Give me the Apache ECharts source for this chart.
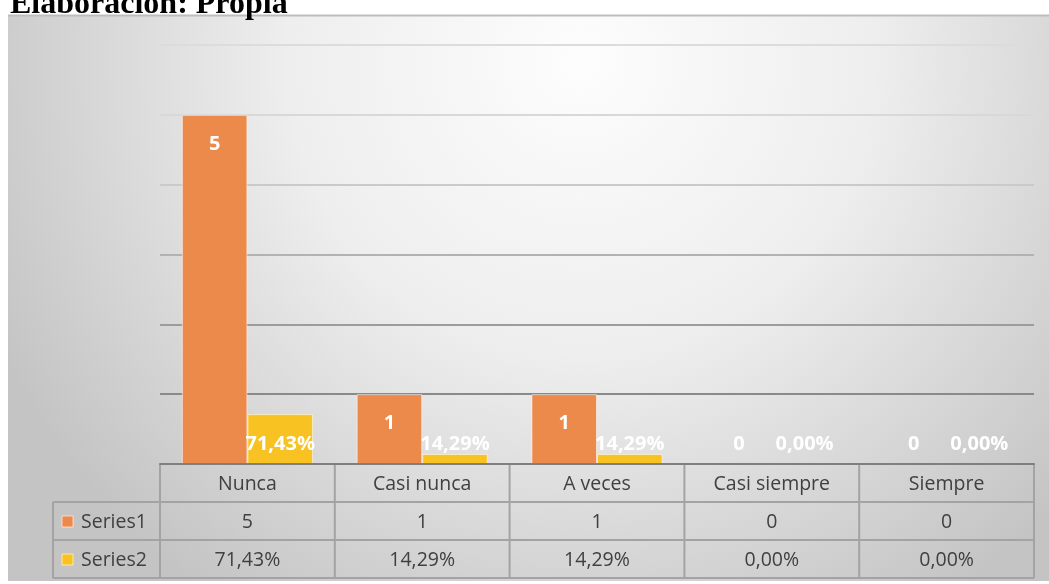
<!DOCTYPE html>
<html>
<head>
<meta charset="utf-8">
<script src="https://cdn.jsdelivr.net/npm/echarts@6/dist/echarts.min.js"></script>
<style>
html, body { margin: 0; padding: 0; background: #fff; }
#main { width: 1049px; height: 584px; }
</style>
</head>
<body>
<div id="main"></div>
<script>
var categories = ['Nunca', 'Casi nunca', 'A veces', 'Casi siempre', 'Siempre'];
var seriesNames = ['Series1', 'Series2'];
var series1 = [5, 1, 1, 0, 0];
var series2 = [0.7143, 0.1429, 0.1429, 0, 0];
var titleText = 'Elaboración: Propia';

var orange = '#EB8A4B';
var yellow = '#F8C322';
var textFont = '"Open Sans", "Noto Sans", sans-serif';

function pct(v) {
  return (v * 100).toFixed(2).replace('.', ',') + '%';
}

// barras en 0: sin borde; etiqueta de la serie 1 abajo si el valor es 0
function s1Data() {
  return series1.map(function (v) {
    if (v === 0) {
      return { value: v, itemStyle: { borderWidth: 0 }, label: { position: 'insideBottom', distance: 10 } };
    }
    return v;
  });
}
function s2Data() {
  return series2.map(function (v) {
    if (v === 0) return { value: v, itemStyle: { borderWidth: 0 } };
    return v;
  });
}

var myChart = echarts.init(document.getElementById('main'));

myChart.setOption({
  animation: false,
  textStyle: { fontFamily: textFont },
  grid: { left: 160, right: 15, top: 45, bottom: 120 },
  xAxis: {
    type: 'category',
    data: categories,
    axisLine: { lineStyle: { color: '#7f7f7f', width: 2 } },
    axisTick: { show: false },
    axisLabel: { show: false },
    z: 5
  },
  yAxis: {
    type: 'value',
    min: 0,
    max: 6,
    interval: 1,
    axisLabel: { show: false },
    axisLine: { show: false },
    axisTick: { show: false },
    splitLine: {
      lineStyle: {
        width: 2,
        color: ['#7f7f7f', '#8a8a8a', '#9c9c9c', '#b2b2b2', '#cacaca', '#d8d8d8', '#dcdcdc']
      }
    }
  },
  series: [
    {
      name: seriesNames[0],
      type: 'bar',
      data: s1Data(),
      barGap: 0,
      barCategoryGap: '25%',
      itemStyle: { color: orange, borderColor: 'rgba(255,255,255,0.55)', borderWidth: 1 },
      label: {
        show: true,
        position: 'insideTop',
        distance: 19,
        color: '#fff',
        fontWeight: 'bold',
        fontSize: 20,
        fontFamily: textFont
      }
    },
    {
      name: seriesNames[1],
      type: 'bar',
      data: s2Data(),
      itemStyle: { color: yellow, borderColor: 'rgba(255,255,255,0.55)', borderWidth: 1 },
      label: {
        show: true,
        position: 'insideBottom',
        distance: 10,
        color: '#fff',
        fontWeight: 'bold',
        fontSize: 20,
        fontFamily: textFont,
        formatter: function (p) { return pct(p.value); }
      }
    }
  ]
});

// tabla de datos debajo del eje, posicionada con la escala del propio eje
var catW = myChart.convertToPixel({ xAxisIndex: 0 }, 1) - myChart.convertToPixel({ xAxisIndex: 0 }, 0);
var x0 = myChart.convertToPixel({ xAxisIndex: 0 }, 0) - catW / 2;
var y0 = myChart.convertToPixel({ yAxisIndex: 0 }, 0);
var rowH = 38;
var leftX = 53;
var xEnd = x0 + catW * categories.length;
var lineCol = '#a3a3a3';
var cellText = '#404040';

var g = [];
g.push({
  type: 'rect', z: -10, silent: true,
  shape: { x: 8, y: 15, width: 1041, height: 566 },
  style: {
    fill: {
      type: 'radial', x: 0.55, y: 0.08, r: 1.15,
      colorStops: [{ offset: 0, color: '#fdfdfd' }, { offset: 0.45, color: '#eeeeee' }, { offset: 1, color: '#c4c4c4' }]
    }
  }
});
g.push({ type: 'line', z: -9, silent: true, shape: { x1: 8, y1: 15.5, x2: 1049, y2: 15.5 }, style: { stroke: '#bdbdbd', lineWidth: 2 } });
g.push({
  type: 'text', silent: true, x: 10, y: 21,
  style: { text: titleText, font: 'bold 32px "Liberation Serif", "Times New Roman", serif', fill: '#000', verticalAlign: 'bottom' }
});

// líneas horizontales
[1, 2, 3].forEach(function (r) {
  var y = y0 + r * rowH;
  g.push({ type: 'line', silent: true, shape: { x1: leftX, y1: y, x2: xEnd, y2: y }, style: { stroke: lineCol, lineWidth: 2 } });
});
// líneas verticales
for (var c = 0; c <= categories.length; c++) {
  var x = x0 + c * catW;
  g.push({ type: 'line', silent: true, shape: { x1: x, y1: y0, x2: x, y2: y0 + 3 * rowH }, style: { stroke: lineCol, lineWidth: 2 } });
}
g.push({ type: 'line', silent: true, shape: { x1: leftX, y1: y0 + rowH, x2: leftX, y2: y0 + 3 * rowH }, style: { stroke: lineCol, lineWidth: 2 } });

function cell(txt, cx, cy) {
  g.push({
    type: 'text', silent: true, x: cx, y: cy,
    style: { text: txt, font: '19.5px ' + textFont, fill: cellText, align: 'center', verticalAlign: 'middle' }
  });
}
categories.forEach(function (name, i) {
  var cx = x0 + (i + 0.5) * catW;
  cell(name, cx, y0 + rowH * 0.5 + 1);
  cell(String(series1[i]), cx, y0 + rowH * 1.5 + 1);
  cell(pct(series2[i]), cx, y0 + rowH * 2.5 + 1);
});
// leyenda en la tabla
[orange, yellow].forEach(function (col, r) {
  var cy = y0 + rowH * (1.5 + r) + 1;
  g.push({ type: 'rect', silent: true, shape: { x: 62, y: cy - 6, width: 11, height: 11 }, style: { fill: col, stroke: 'rgba(255,255,255,0.6)', lineWidth: 1 } });
  g.push({
    type: 'text', silent: true, x: 81, y: cy,
    style: { text: seriesNames[r], font: '19.5px ' + textFont, fill: cellText, align: 'left', verticalAlign: 'middle' }
  });
});

myChart.setOption({ graphic: g });
</script>
</body>
</html>
